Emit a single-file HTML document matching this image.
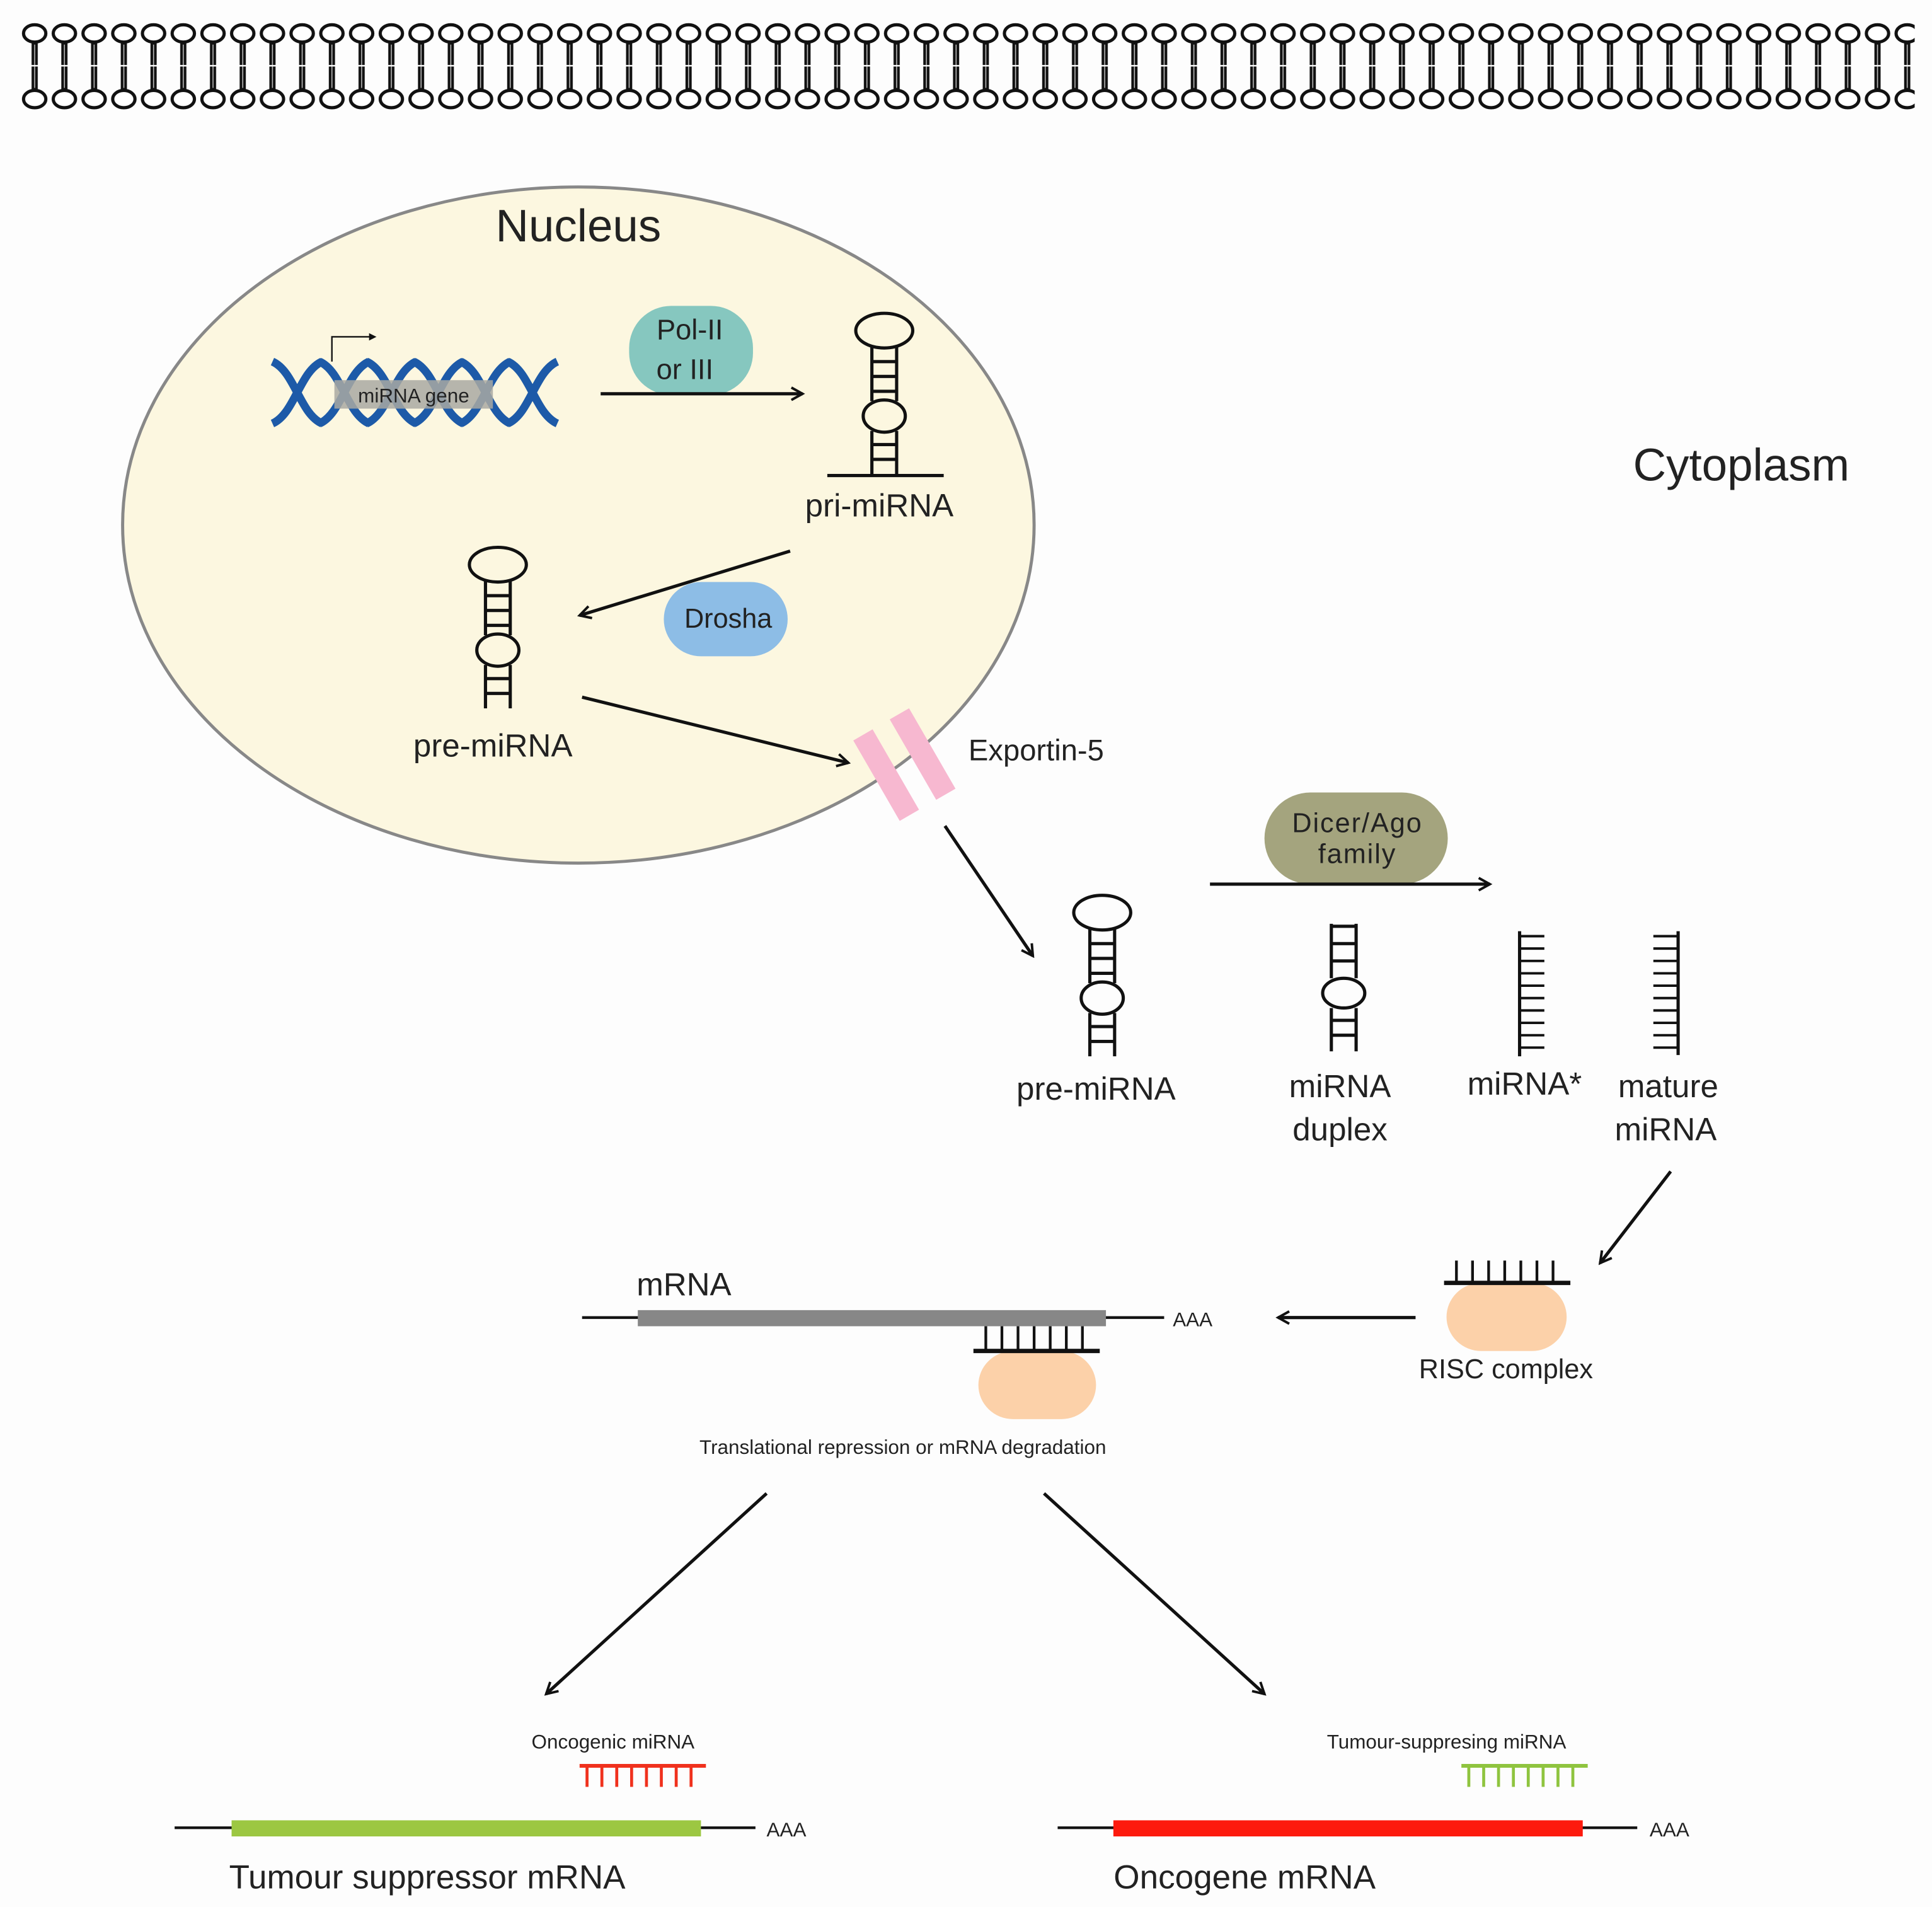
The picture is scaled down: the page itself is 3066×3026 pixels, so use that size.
<!DOCTYPE html>
<html><head><meta charset="utf-8"><style>html,body{margin:0;padding:0;background:#fdfdfd}svg{display:block}text{font-family:"Liberation Sans",sans-serif;fill:#222}</style></head>
<body>
<svg width="3066" height="3026" viewBox="0 0 1560 1540" preserveAspectRatio="none" xmlns="http://www.w3.org/2000/svg">
<defs>
<pattern id="mem" x="16" y="0" width="24" height="100" patternUnits="userSpaceOnUse">
<ellipse cx="12" cy="27" rx="9" ry="7" fill="#fff" stroke="#111" stroke-width="2.6"/>
<ellipse cx="12" cy="80" rx="9" ry="7" fill="#fff" stroke="#111" stroke-width="2.6"/>
<rect x="9.5" y="34" width="5" height="39" fill="#111"/>
<line x1="12" y1="36" x2="12" y2="71" stroke="#bbb" stroke-width="0.8"/>
<rect x="9" y="52.5" width="6" height="1.2" fill="#fff"/>
</pattern>
<marker id="ah" viewBox="0 0 12 12" refX="10" refY="6" markerWidth="12" markerHeight="12" markerUnits="userSpaceOnUse" orient="auto">
<path d="M1,1 L10,6 L1,11" fill="none" stroke="#111" stroke-width="2"/>
</marker>
<g id="sl" fill="none" stroke="#111" stroke-width="2.6">
<ellipse cx="0" cy="0" rx="23" ry="14"/>
<line x1="-10" y1="13" x2="-10" y2="57"/><line x1="10" y1="13" x2="10" y2="57"/>
<line x1="-10" y1="25" x2="10" y2="25"/><line x1="-10" y1="37" x2="10" y2="37"/><line x1="-10" y1="49" x2="10" y2="49"/>
<ellipse cx="0" cy="69" rx="17" ry="13"/>
<line x1="-10" y1="81" x2="-10" y2="116"/><line x1="10" y1="81" x2="10" y2="116"/>
<line x1="-10" y1="92" x2="10" y2="92"/><line x1="-10" y1="104" x2="10" y2="104"/>
</g>
<path id="dx" d="M-20,292 C-2,300 2,334 20,342 M20,292 C2,300 -2,334 -20,342" fill="none" stroke="#1d5aa8" stroke-width="6.5"/>
</defs>
<rect x="0" y="0" width="1560" height="1540" fill="#fdfdfd"/>
<rect x="16" y="15" width="1530" height="80" fill="url(#mem)"/>

<!-- nucleus -->
<ellipse cx="467" cy="424" rx="368" ry="273" fill="#fcf7e0" stroke="#888" stroke-width="2.5"/>
<text x="467" y="195" font-size="37" text-anchor="middle">Nucleus</text>
<text x="1406" y="388" font-size="37" text-anchor="middle">Cytoplasm</text>

<!-- DNA -->
<use href="#dx" x="240"/><use href="#dx" x="278"/><use href="#dx" x="316"/>
<use href="#dx" x="354"/><use href="#dx" x="392"/><use href="#dx" x="430"/>
<rect x="270" y="307" width="128" height="23" fill="#a9a9a2" opacity="0.85"/>
<text x="334" y="325" font-size="16" text-anchor="middle" fill="#333">miRNA gene</text>
<path d="M268,292 V272 H302" fill="none" stroke="#111" stroke-width="1.2"/>
<path d="M298,269 L304,272 L298,275Z" fill="#111"/>

<!-- Pol -->
<rect x="508" y="247" width="100" height="72" rx="34" fill="#86c7bf"/>
<text x="557" y="274" font-size="23" text-anchor="middle">Pol-II</text>
<text x="553" y="306" font-size="23" text-anchor="middle">or III</text>
<line x1="485" y1="318" x2="648" y2="318" stroke="#111" stroke-width="2.6" marker-end="url(#ah)"/>

<use href="#sl" x="714" y="267"/>
<line x1="668" y1="384" x2="762" y2="384" stroke="#111" stroke-width="2.6"/>
<text x="710" y="417" font-size="26" text-anchor="middle">pri-miRNA</text>

<line x1="638" y1="445" x2="468" y2="497" stroke="#111" stroke-width="2.6" marker-end="url(#ah)"/>
<rect x="536" y="470" width="100" height="60" rx="30" fill="#8dbde6"/>
<text x="588" y="507" font-size="22" text-anchor="middle">Drosha</text>

<use href="#sl" x="402" y="456"/>
<text x="398" y="611" font-size="26" text-anchor="middle">pre-miRNA</text>
<line x1="470" y1="563" x2="685" y2="616" stroke="#111" stroke-width="2.6" marker-end="url(#ah)"/>

<!-- exportin -->
<g transform="rotate(-30 730 617)" fill="#f7b8d0">
<rect x="704" y="580" width="18" height="75"/>
<rect x="738" y="580" width="18" height="75"/>
</g>
<text x="782" y="614" font-size="24">Exportin-5</text>
<line x1="763" y1="667" x2="834" y2="772" stroke="#111" stroke-width="2.6" marker-end="url(#ah)"/>

<!-- cytoplasm -->
<use href="#sl" x="890" y="737"/>
<text x="885" y="888" font-size="26" text-anchor="middle">pre-miRNA</text>

<rect x="1021" y="640" width="148" height="74" rx="37" fill="#a4a47e"/>
<text x="1096" y="672" font-size="22" text-anchor="middle" letter-spacing="1">Dicer/Ago</text>
<text x="1096" y="697" font-size="22" text-anchor="middle" letter-spacing="1">family</text>
<line x1="977" y1="714" x2="1203" y2="714" stroke="#111" stroke-width="2.6" marker-end="url(#ah)"/>

<g fill="none" stroke="#111" stroke-width="2.6">
<line x1="1075" y1="746" x2="1075" y2="790"/><line x1="1095" y1="746" x2="1095" y2="790"/>
<line x1="1075" y1="748" x2="1095" y2="748"/><line x1="1075" y1="762" x2="1095" y2="762"/><line x1="1075" y1="776" x2="1095" y2="776"/>
<ellipse cx="1085" cy="802" rx="17" ry="12"/>
<line x1="1075" y1="814" x2="1075" y2="849"/><line x1="1095" y1="814" x2="1095" y2="849"/>
<line x1="1075" y1="824" x2="1095" y2="824"/><line x1="1075" y1="836" x2="1095" y2="836"/>
<line x1="1227" y1="752" x2="1227" y2="853"/>
<path d="M1227,756h20M1227,766h20M1227,776h20M1227,786h20M1227,796h20M1227,806h20M1227,816h20M1227,826h20M1227,836h20M1227,846h20" stroke-width="2"/>
<line x1="1355" y1="752" x2="1355" y2="852"/>
<path d="M1335,756h20M1335,766h20M1335,776h20M1335,786h20M1335,796h20M1335,806h20M1335,816h20M1335,826h20M1335,836h20M1335,846h20" stroke-width="2"/>
</g>
<text x="1082" y="886" font-size="26" text-anchor="middle">miRNA</text>
<text x="1082" y="921" font-size="26" text-anchor="middle">duplex</text>
<text x="1231" y="884" font-size="26" text-anchor="middle">miRNA*</text>
<text x="1347" y="886" font-size="26" text-anchor="middle">mature</text>
<text x="1345" y="921" font-size="26" text-anchor="middle">miRNA</text>
<line x1="1349" y1="946" x2="1292" y2="1020" stroke="#111" stroke-width="2.6" marker-end="url(#ah)"/>

<!-- RISC -->
<rect x="1168" y="1036" width="97" height="55" rx="28" fill="#fcd1a9"/>
<g stroke="#111" stroke-width="2.2"><line x1="1166" y1="1036" x2="1268" y2="1036" stroke-width="3.5"/>
<path d="M1176,1018v18M1189,1018v18M1202,1018v18M1215,1018v18M1228,1018v18M1241,1018v18M1254,1018v18"/></g>
<text x="1216" y="1113" font-size="22" text-anchor="middle">RISC complex</text>
<line x1="1143" y1="1064" x2="1032" y2="1064" stroke="#111" stroke-width="2.6" marker-end="url(#ah)"/>

<!-- mRNA -->
<line x1="470" y1="1064" x2="940" y2="1064" stroke="#111" stroke-width="2.2"/>
<rect x="515" y="1058" width="378" height="13" fill="#878787"/>
<text x="514" y="1046" font-size="26">mRNA</text>
<text x="947" y="1071" font-size="16">AAA</text>
<rect x="790" y="1091" width="95" height="55" rx="28" fill="#fcd1a9"/>
<g stroke="#111" stroke-width="2.2"><line x1="786" y1="1091" x2="888" y2="1091" stroke-width="3.5"/>
<path d="M796,1071v20M809,1071v20M822,1071v20M835,1071v20M848,1071v20M861,1071v20M874,1071v20"/></g>
<text x="729" y="1174" font-size="16" text-anchor="middle">Translational repression or mRNA degradation</text>

<line x1="619" y1="1206" x2="441" y2="1368" stroke="#111" stroke-width="2.6" marker-end="url(#ah)"/>
<line x1="843" y1="1206" x2="1021" y2="1368" stroke="#111" stroke-width="2.6" marker-end="url(#ah)"/>

<!-- bottom left -->
<text x="495" y="1412" font-size="16" text-anchor="middle">Oncogenic miRNA</text>
<g stroke="#f0311d" stroke-width="2.4"><line x1="468" y1="1426" x2="570" y2="1426" stroke-width="3"/>
<path d="M474,1426v17M486,1426v17M498,1426v17M510,1426v17M522,1426v17M534,1426v17M546,1426v17M558,1426v17"/></g>
<line x1="141" y1="1476" x2="610" y2="1476" stroke="#111" stroke-width="2.2"/>
<rect x="187" y="1470" width="379" height="13" fill="#9cc742"/>
<text x="619" y="1483" font-size="16">AAA</text>
<text x="345" y="1525" font-size="27" text-anchor="middle">Tumour suppressor mRNA</text>

<!-- bottom right -->
<text x="1168" y="1412" font-size="16" text-anchor="middle">Tumour-suppresing miRNA</text>
<g stroke="#8fc43f" stroke-width="2.4"><line x1="1180" y1="1426" x2="1282" y2="1426" stroke-width="3"/>
<path d="M1186,1426v17M1198,1426v17M1210,1426v17M1222,1426v17M1234,1426v17M1246,1426v17M1258,1426v17M1270,1426v17"/></g>
<line x1="854" y1="1476" x2="1322" y2="1476" stroke="#111" stroke-width="2.2"/>
<rect x="899" y="1470" width="379" height="13" fill="#fd1a0e"/>
<text x="1332" y="1483" font-size="16">AAA</text>
<text x="1005" y="1525" font-size="27" text-anchor="middle">Oncogene mRNA</text>
</svg>
</body></html>
